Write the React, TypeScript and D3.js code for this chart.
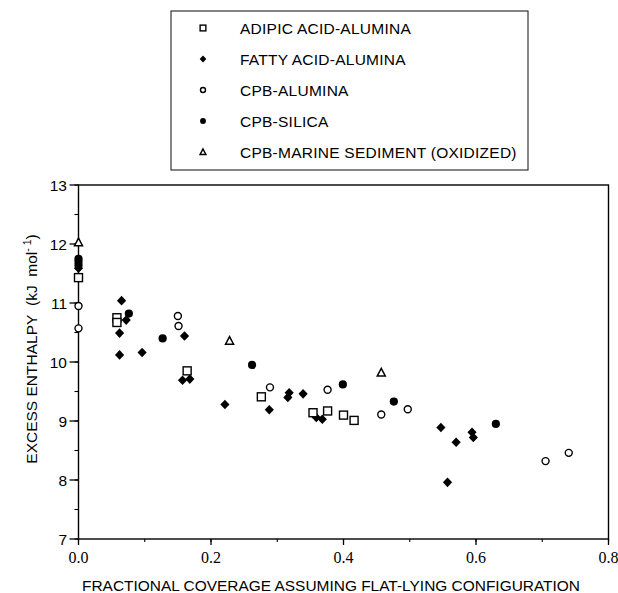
import React from 'react';
import { scaleLinear, range } from 'd3';

// [fractional coverage, excess enthalpy]
const adipicAlumina = [
  [0, 11.43], [0.058, 10.75], [0.058, 10.67], [0.164, 9.85], [0.276, 9.41],
  [0.354, 9.14], [0.376, 9.17], [0.4, 9.1], [0.416, 9.01],
];
const fattyAlumina = [
  [0, 11.59], [0.065, 11.04], [0.072, 10.71], [0.062, 10.49], [0.062, 10.12],
  [0.096, 10.16], [0.16, 10.44], [0.157, 9.69], [0.168, 9.71], [0.221, 9.28],
  [0.288, 9.19], [0.316, 9.4], [0.318, 9.48], [0.339, 9.46], [0.359, 9.06],
  [0.368, 9.03], [0.547, 8.89], [0.557, 7.96], [0.57, 8.64], [0.594, 8.81],
  [0.596, 8.72],
];
const cpbAlumina = [
  [0, 10.95], [0, 10.57], [0.15, 10.78], [0.151, 10.61], [0.289, 9.57],
  [0.376, 9.53], [0.457, 9.11], [0.497, 9.2], [0.705, 8.32], [0.74, 8.46],
];
const cpbSilica = [
  [0, 11.75], [0, 11.7], [0, 11.64], [0.076, 10.82], [0.127, 10.4],
  [0.262, 9.95], [0.399, 9.62], [0.476, 9.33], [0.63, 8.95],
];
const cpbMarine = [[0, 12.03], [0.228, 10.36], [0.457, 9.82]];

const legendLabels = [
  'ADIPIC ACID-ALUMINA',
  'FATTY ACID-ALUMINA',
  'CPB-ALUMINA',
  'CPB-SILICA',
  'CPB-MARINE SEDIMENT (OXIDIZED)',
];
const xTicks = [0, 0.2, 0.4, 0.6, 0.8];
const yTicks = [7, 8, 9, 10, 11, 12, 13];

const W = 618;
const H = 593;
const sans = 'Liberation Sans, Arial, sans-serif';
const serif = 'Liberation Serif, Times New Roman, serif';

const Marker = ({ kind, s = 1 }: { kind: string; s?: number }) => {
  if (kind === 'square')
    return <rect x={-4 * s} y={-4 * s} width={8 * s} height={8 * s} fill="#fff" stroke="#000" strokeWidth={1.4} />;
  if (kind === 'diamond')
    return <path d={`M0,${-4.8 * s}L${4.6 * s},0L0,${4.8 * s}L${-4.6 * s},0Z`} fill="#000" />;
  if (kind === 'ocircle')
    return <circle r={3.5 * s} fill="#fff" stroke="#000" strokeWidth={1.4} />;
  if (kind === 'fcircle') return <circle r={4.1 * s} fill="#000" />;
  return (
    <path d={`M0,${-4.2 * s}L${4 * s},${3.4 * s}L${-4 * s},${3.4 * s}Z`} fill="#fff" stroke="#000" strokeWidth={1.5} />
  );
};

const series = [
  { kind: 'fcircle', data: cpbSilica },
  { kind: 'diamond', data: fattyAlumina },
  { kind: 'ocircle', data: cpbAlumina },
  { kind: 'square', data: adipicAlumina },
  { kind: 'triangle', data: cpbMarine },
];
const legendKinds = ['square', 'diamond', 'ocircle', 'fcircle', 'triangle'];

export default function App() {
  const x = scaleLinear().domain([0, 0.8]).range([78.5, 608.5]);
  const y = scaleLinear().domain([7, 13]).range([539, 185]);
  const xMinor = range(0, 0.81, 0.1);
  const yMinor = range(7, 13.01, 0.5);

  return (
    <svg width={W} height={H} style={{ position: 'absolute', left: 0, top: 0, background: '#fff' }}>
      {/* legend */}
      <rect x={171} y={11} width={357} height={159} fill="none" stroke="#222" strokeWidth={1.1} />
      {legendLabels.map((l, i) => (
        <g key={l} transform={`translate(0,${28 + i * 31})`}>
          <g transform="translate(203,0)">
            <Marker kind={legendKinds[i]} s={0.72} />
          </g>
          <text x={240} y={5.5} fontFamily={sans} fontSize={15.5} letterSpacing={0.25}>
            {l}
          </text>
        </g>
      ))}

      {/* frame */}
      <rect x={x(0)} y={y(13)} width={x(0.8) - x(0)} height={y(7) - y(13)} fill="none" stroke="#000" strokeWidth={1.4} />

      {/* x ticks */}
      {xMinor.map((t) => (
        <line key={'xm' + t} x1={x(t)} x2={x(t)} y1={y(7)} y2={y(7) + 3} stroke="#000" strokeWidth={1.1} />
      ))}
      {xTicks.map((t) => (
        <g key={'x' + t}>
          <line x1={x(t)} x2={x(t)} y1={y(7)} y2={y(7) + 6} stroke="#000" strokeWidth={1.3} />
          <text x={x(t)} y={563} textAnchor="middle" fontFamily={serif} fontSize={16}>
            {t.toFixed(1)}
          </text>
        </g>
      ))}

      {/* y ticks */}
      {yMinor.map((t) => (
        <line key={'ym' + t} x1={x(0) - 4} x2={x(0)} y1={y(t)} y2={y(t)} stroke="#000" strokeWidth={1.1} />
      ))}
      {yTicks.map((t) => (
        <g key={'y' + t}>
          <line x1={x(0) - 9} x2={x(0)} y1={y(t)} y2={y(t)} stroke="#000" strokeWidth={1.3} />
          <text x={67} y={y(t) + 5.5} textAnchor="end" fontFamily={sans} fontSize={15.5}>
            {t}
          </text>
        </g>
      ))}

      {/* axis titles */}
      <text
        x={331}
        y={591}
        textAnchor="middle"
        fontFamily={sans}
        fontSize={15}
        textLength={498}
        lengthAdjust="spacingAndGlyphs"
      >
        FRACTIONAL COVERAGE ASSUMING FLAT-LYING CONFIGURATION
      </text>
      <text transform="translate(37,349) rotate(-90)" textAnchor="middle" fontFamily={sans} fontSize={15.5}>
        EXCESS ENTHALPY{'\u00a0\u00a0'}(kJ{'\u00a0\u00a0'}mol
        <tspan dy={-6} fontSize={10.5}>
          -{'\u00a0'}1
        </tspan>
        <tspan dy={6}>)</tspan>
      </text>

      {/* points */}
      {series.map((s) =>
        s.data.map((d, i) => (
          <g key={s.kind + i} transform={`translate(${x(d[0])},${y(d[1])})`}>
            <Marker kind={s.kind} />
          </g>
        ))
      )}
    </svg>
  );
}
